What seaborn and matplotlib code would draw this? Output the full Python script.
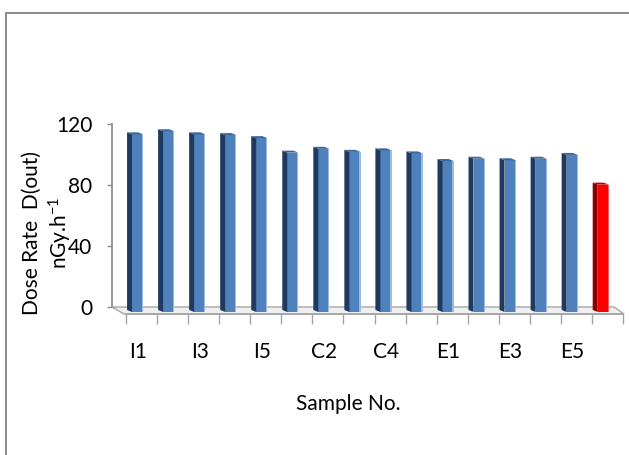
import matplotlib
matplotlib.use("Agg")
import matplotlib.pyplot as plt
import pandas as pd
import seaborn as sns
from matplotlib.patches import Polygon, Rectangle
from matplotlib.transforms import IdentityTransform, ScaledTranslation
from matplotlib.ticker import FixedLocator

# Outdoor dose rate per sample location, plus the reference value in red
samples = ["I1", "I2", "I3", "I4", "I5",
           "C1", "C2", "C3", "C4", "C5",
           "E1", "E2", "E3", "E4", "E5", "World"]
dose_rate = [116.5, 118.5, 116.5, 116.0, 114.0,
             104.5, 107.0, 105.0, 106.0, 104.0,
             99.0, 100.5, 99.5, 100.5, 103.0, 83.5]
kind = ["sample"] * 15 + ["reference"]
y_ticks = [0, 40, 80, 120]

W, H = 629, 455
sns.set_theme(style="white")
plt.rcParams["font.family"] = ["Lato", "DejaVu Sans"]
plt.rcParams["mathtext.default"] = "regular"

fig = plt.figure(figsize=(W / 100, H / 100), dpi=100)
fig.patch.set_facecolor("white")


def fx(px):
    return px / W


def fy(py):
    return 1 - py / H


# chart frame (open on the right and bottom)
fig.add_artist(Rectangle((fx(6.5), fy(700)), 2.0, fy(12.5) - fy(700),
                         transform=fig.transFigure, fill=False,
                         edgecolor="#8c8c8c", lw=1.4))

ax = fig.add_axes([fx(126), fy(307), fx(623) - fx(126), (307 - 124) / H])
ax.set_facecolor("none")

df = pd.DataFrame({"sample": samples, "dose": dose_rate, "kind": kind})
sns.barplot(data=df, x="sample", y="dose", hue="kind", order=samples,
            palette={"sample": "#4F81BD", "reference": "#FF0000"},
            dodge=False, width=0.36, legend=False, saturation=1,
            ax=ax, zorder=3)

ax.set_xlim(-0.375, 15.635)
ax.set_ylim(0, 120)

# pseudo-3D: drop bars onto the front of the floor, add side and top faces
shift = ScaledTranslation(0, -0.05, fig.dpi_scale_trans)
side_col = {"#4F81BD": "#1F3A5E", "#FF0000": "#8E0000"}
top_col = {"#4F81BD": "#3B6699", "#FF0000": "#C00000"}
fig.canvas.draw()
bars = list(ax.patches)
for p in bars:
    fc = matplotlib.colors.to_hex(p.get_facecolor()).upper()
    x0, w, h = p.get_x(), p.get_width(), p.get_height()
    (X0, Y0), (X1, Yt) = ax.transData.transform([(x0, 0), (x0 + w, h)])
    Y0 -= 5
    Yt -= 5
    p.set_transform(ax.transData + shift)
    p.set_clip_on(False)
    p.set_edgecolor("none")
    side = Polygon([(X0, Y0), (X0, Yt), (X0 - 5, Yt + 2), (X0 - 5, Y0 + 2)],
                   closed=True, transform=IdentityTransform(),
                   facecolor=side_col.get(fc, "#1F3A5E"), edgecolor="none",
                   clip_on=False, zorder=4)
    top = Polygon([(X0, Yt), (X1, Yt), (X1 - 5, Yt + 2), (X0 - 5, Yt + 2)],
                  closed=True, transform=IdentityTransform(),
                  facecolor=top_col.get(fc, "#3B6699"), edgecolor="none",
                  clip_on=False, zorder=4)
    hl = Polygon([(X1 - 1.2, Y0), (X1 - 1.2, Yt), (X1, Yt), (X1, Y0)],
                 closed=True, transform=IdentityTransform(),
                 facecolor="#9DBBE0" if fc == "#4F81BD" else "#FF6060",
                 edgecolor="none", clip_on=False, zorder=4)
    ax.add_patch(side)
    ax.add_patch(top)
    ax.add_patch(hl)

# floor
floor = Polygon([(112, H - 307), (614, H - 307), (624, H - 314), (124, H - 314)],
                closed=True, transform=IdentityTransform(),
                facecolor="#f0f0f0", edgecolor="#a6a6a6", lw=1.0,
                clip_on=False, zorder=1)
ax.add_patch(floor)

# axes styling
for s in ("top", "right"):
    ax.spines[s].set_visible(False)
ax.spines["left"].set_position(("outward", 10.08))
ax.spines["left"].set_color("#8c8c8c")
ax.spines["bottom"].set_position(("outward", 5.04))
ax.spines["bottom"].set_color("#a6a6a6")

ax.set_yticks(y_ticks)
ax.set_yticklabels([str(v) for v in y_ticks])
ax.tick_params(axis="y", direction="out", length=3.6, width=1.0,
               color="#8c8c8c", pad=10.5, labelsize=15, labelcolor="black",
               left=True)

ax.set_xticks(range(len(samples)))
ax.set_xticklabels([s if i % 2 == 0 else "" for i, s in enumerate(samples)])
ax.xaxis.set_minor_locator(FixedLocator([k - 0.37 for k in range(17)]))
ax.tick_params(axis="x", which="major", length=0, pad=20, labelsize=15,
               labelcolor="black", bottom=True)
ax.tick_params(axis="x", which="minor", direction="out", length=7.2,
               width=1.0, color="#a6a6a6", bottom=True)
ax.set_xlabel("")
ax.set_ylabel("")

fig.text(fx(348), fy(404), "Sample No.", ha="center", va="center",
         fontsize=15, color="black")
fig.text(fx(48), fy(233), "Dose Rate  D(out)\nnGy.h$^{-1}$", rotation=90,
         ha="center", va="center", multialignment="center",
         fontsize=15, color="black", linespacing=1.25)

fig.savefig("out.png", dpi=100, facecolor="white")
